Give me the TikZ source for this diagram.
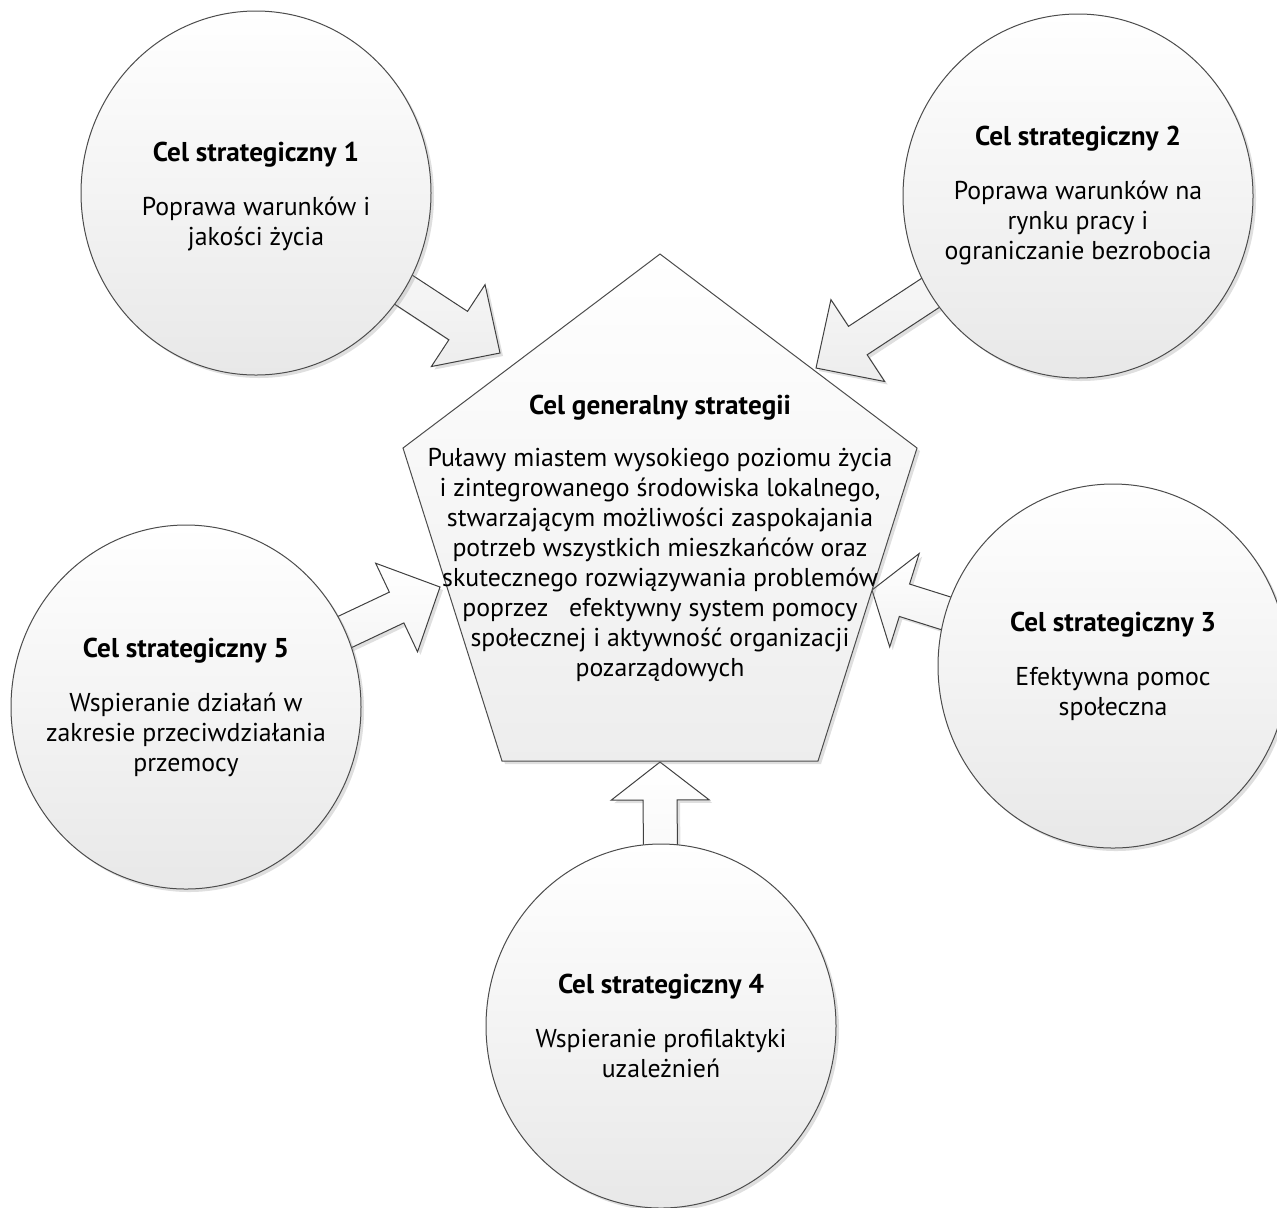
\documentclass[tikz,border=0pt]{standalone}
\usepackage{fontspec}
\setmainfont{PT Sans}
\usetikzlibrary{shapes.geometric,calc,shadows,backgrounds}

\tikzset{
	goal/.style={ellipse,draw=black!70,line width=0.5pt,top color=white,bottom color=black!9,
		minimum width=175pt,minimum height=182pt,
		drop shadow={shadow xshift=1.5pt,shadow yshift=-1.5pt,opacity=0.25}},
	goaltext/.style={align=center,font=\fontsize{12.9}{15}\selectfont},
	title/.style={font=\fontsize{13.6}{15}\selectfont\bfseries},
	genbox/.style={draw=black!70,line width=0.5pt,top color=white,bottom color=black!7,
		drop shadow={shadow xshift=1.5pt,shadow yshift=-1.5pt,opacity=0.25}},
	arrowbox/.style={draw=black!75,line width=0.5pt,top color=white,bottom color=black!7,
		drop shadow={shadow xshift=1.5pt,shadow yshift=-1.5pt,opacity=0.25}}
}
\newcommand\goaltitle[1]{{\fontsize{13.6}{15}\selectfont\bfseries #1}}

% block arrow: #1 circle node, #2 tip, #3 head length
\newcommand\goalarrow[3]{%
	\draw[arrowbox] let \p1=($(#2)-(#1.center)$), \n1={atan2(\y1,\x1)}, \n2={veclen(\x1,\y1)} in
	($(#1.center)+(\n1+90:8.5pt)$) -- ($(#1.center)+(\n1:\n2-#3)+(\n1+90:8.5pt)$)
	-- ($(#1.center)+(\n1:\n2-#3)+(\n1+90:24.5pt)$) -- (#2)
	-- ($(#1.center)+(\n1:\n2-#3)+(\n1-90:24.5pt)$) -- ($(#1.center)+(\n1:\n2-#3)+(\n1-90:8.5pt)$)
	-- ($(#1.center)+(\n1-90:8.5pt)$) -- cycle;}

\begin{document}
\begin{tikzpicture}[x=0.5pt,y=-0.5pt]
	\useasboundingbox (0,0) rectangle (1277,1207);

	%central pentagon
	\draw[genbox] (660,254) coordinate (p1) -- (917,448) coordinate (p2) -- (818,761) coordinate (p3)
		-- (502,761) coordinate (p4) -- (403,448) coordinate (p5) -- cycle;
	\node[goaltext] (gen) at (660,538) {\goaltitle{Cel generalny strategii}\\[11pt]
		Puławy miastem wysokiego poziomu życia\\
		i zintegrowanego środowiska lokalnego,\\
		stwarzającym możliwości zaspokajania\\
		potrzeb wszystkich mieszkańców oraz\\
		skutecznego rozwiązywania problemów\\
		poprzez\ \ \ efektywny system pomocy\\
		społecznej i aktywność organizacji\\
		pozarządowych};

	%GOALS
	\node[goal] (c1) at (256,193) {};
	\node[goal] (c2) at (1078,196) {};
	\node[goal] (c3) at (1113,666) {};
	\node[goal] (c4) at (661,1026) {};
	\node[goal] (c5) at (186,707) {};

	\node[goaltext] (g1) at ([yshift=-2pt]c1) {\goaltitle{Cel strategiczny 1}\\[12pt] Poprawa warunków i\\ jakości życia};
	\node[goaltext] (g2) at (c2) {\goaltitle{Cel strategiczny 2}\\[12pt] Poprawa warunków na\\ rynku pracy i\\ ograniczanie bezrobocia};
	\node[goaltext] (g3) at (c3) {\goaltitle{Cel strategiczny 3}\\[12pt] Efektywna pomoc\\ społeczna};
	\node[goaltext] (g4) at (c4) {\goaltitle{Cel strategiczny 4}\\[12pt] Wspieranie profilaktyki\\ uzależnień};
	\node[goaltext] (g5) at (c5) {\goaltitle{Cel strategiczny 5}\\[12pt] Wspieranie działań w\\ zakresie przeciwdziałania\\ przemocy};

	%ARROWS
	\coordinate (t1) at (500,353);
	\coordinate (t2) at (816,368);
	\coordinate (t3) at (872,590);
	\coordinate (t4) at (660,762);
	\coordinate (t5) at (440,587);
	\begin{scope}[on background layer]
	\foreach \c/\t/\h in {c1/t1/25pt,c2/t2/25pt,c3/t3/17pt,c4/t4/19pt,c5/t5/24pt}
		\goalarrow{\c}{\t}{\h};
	\end{scope}
\end{tikzpicture}
\end{document}
